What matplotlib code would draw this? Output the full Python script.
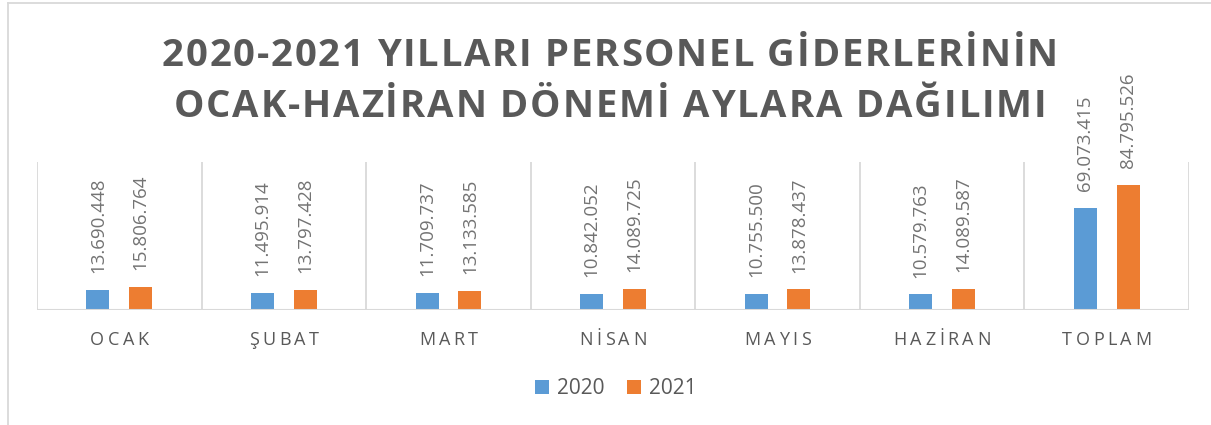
import matplotlib.pyplot as plt
import numpy as np
from matplotlib.lines import Line2D
from matplotlib.transforms import IdentityTransform

months = ['OCAK', 'ŞUBAT', 'MART', 'NİSAN', 'MAYIS', 'HAZİRAN', 'TOPLAM']
y2020 = [13690448, 11495914, 11709737, 10842052, 10755500, 10579763, 69073415]
y2021 = [15806764, 13797428, 13133585, 14089725, 13878437, 14089587, 84795526]
title_lines = ['2020-2021 YILLARI PERSONEL GİDERLERİNİN',
               'OCAK-HAZİRAN DÖNEMİ AYLARA DAĞILIMI']

blue = '#5B9BD5'
orange = '#ED7D31'
grey = '#595959'
line_grey = '#D9D9D9'

plt.rcParams['font.family'] = ['Open Sans', 'DejaVu Sans']

fig = plt.figure(figsize=(12.11, 4.25), dpi=100)
ax = fig.add_axes([37 / 1211, 115 / 425, 1152 / 1211, 148 / 425])


def tr_fmt(v):
    return f'{v:,}'.replace(',', '.')


def spaced(s, cx, base, size, gap=None, width=None, **kw):
    # draw text letter by letter to imitate letter spacing (display pixels)
    r = fig.canvas.get_renderer()
    ws = []
    for ch in s:
        if ch == ' ':
            ws.append(size * 0.26 * fig.dpi / 72)
            continue
        t = fig.text(0, 0, ch, fontsize=size, **kw)
        ws.append(t.get_window_extent(r).width)
        t.remove()
    if gap is None:
        gap = (width - sum(ws)) / (len(s) - 1)
    total = sum(ws) + gap * (len(s) - 1)
    x0 = cx - total / 2
    for ch, wch in zip(s, ws):
        if ch != ' ':
            fig.text(x0 + wch / 2, base, ch, fontsize=size, ha='center',
                     va='baseline', transform=IdentityTransform(), **kw)
        x0 += wch + gap


x = np.arange(len(months))
w = 0.14
b1 = ax.bar(x - 0.13, y2020, w, color=blue, label='2020')
b2 = ax.bar(x + 0.13, y2021, w, color=orange, label='2021')

ax.set_xlim(-0.5, len(months) - 0.5)
ax.set_ylim(0, 100e6)
ax.vlines(np.arange(len(months) + 1) - 0.5, 0, 100e6, color=line_grey, lw=1.3)
ax.axhline(0, color=line_grey, lw=1.5)
for sp in ax.spines.values():
    sp.set_visible(False)
ax.set_xticks([])
ax.set_yticks([])

ax.bar_label(b1, labels=[tr_fmt(v) for v in y2020], rotation=90, padding=12,
             color='#737373', fontsize=13.5)
ax.bar_label(b2, labels=[tr_fmt(v) for v in y2021], rotation=90, padding=12,
             color='#737373', fontsize=13.5)

# title, letter-spaced
spaced(title_lines[0], 610, 359, 27.5, width=896, color=grey, fontweight='bold')
spaced(title_lines[1], 610, 308, 27.5, width=873, color=grey, fontweight='bold')

# category labels
for i, m in enumerate(months):
    cx = ax.transData.transform((i, 0))[0]
    spaced(m, cx, 80, 13, gap=3.5, color=grey)

fig.legend(handles=[b1, b2], loc='center', bbox_to_anchor=(616 / 1211, 36 / 425),
           ncol=2, frameon=False, fontsize=15, handlelength=0.65, handleheight=0.65,
           columnspacing=1.1, handletextpad=0.4, labelcolor=grey)

# chart frame
fig.add_artist(Line2D([8 / 1211, 8 / 1211], [0, 1 - 3 / 425], transform=fig.transFigure,
                      color=line_grey, lw=1.3))
fig.add_artist(Line2D([8 / 1211, 1], [1 - 3 / 425, 1 - 3 / 425], transform=fig.transFigure,
                      color=line_grey, lw=1.3))

fig.savefig('out.png', dpi=100)
